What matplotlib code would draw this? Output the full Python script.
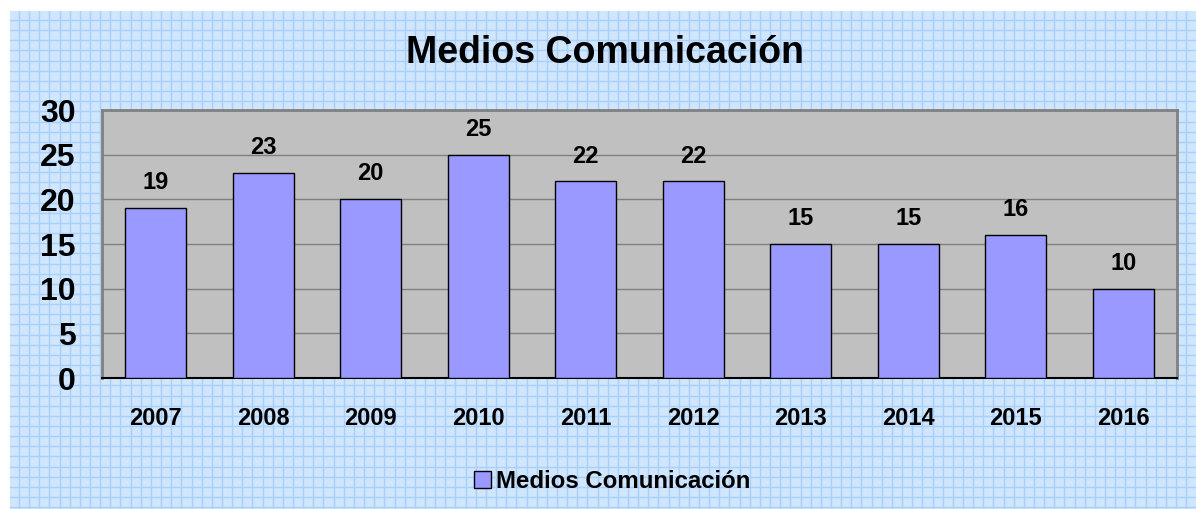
import numpy as np
import matplotlib
matplotlib.use("Agg")
import matplotlib.pyplot as plt
from matplotlib.patches import Rectangle
from matplotlib.lines import Line2D

# Datos
years = ["2007", "2008", "2009", "2010", "2011", "2012", "2013", "2014", "2015", "2016"]
values = [19, 23, 20, 25, 22, 22, 15, 15, 16, 10]
series_name = "Medios Comunicación"
title = "Medios Comunicación"

plt.rcParams["font.family"] = ["Liberation Sans", "DejaVu Sans"]
plt.rcParams["font.weight"] = "bold"

W, H = 1196, 509
fig = plt.figure(figsize=(W / 100, H / 100), dpi=100, facecolor="white")

# =========================
# Fondo papel cuadriculado
# =========================
x0, y0 = 10, 11
fig.patches.append(Rectangle((x0 / W, 0), 1 - x0 / W, 1 - y0 / H,
                             transform=fig.transFigure, facecolor="#cfe6fd",
                             edgecolor="none", zorder=-10))
for gx in np.arange(19, W, 10.15):
    fig.lines.append(Line2D([gx / W, gx / W], [0, 1 - y0 / H], transform=fig.transFigure,
                            color="#a9d0fb", lw=1.0, zorder=-9))
for gy in np.arange(20, H, 10.15):
    fig.lines.append(Line2D([x0 / W, 1], [1 - gy / H, 1 - gy / H], transform=fig.transFigure,
                            color="#a9d0fb", lw=1.0, zorder=-9))

# =========================
# Gráfico de barras
# =========================
ax = fig.add_axes([102 / W, 1 - 378 / H, (1177 - 102) / W, (378 - 110) / H])
ax.set_facecolor("#c0c0c0")

x = np.arange(len(years))
ax.bar(x, values, width=0.57, color="#9999ff", edgecolor="black", linewidth=1.0,
       zorder=3, label=series_name)

for xi, v in zip(x, values):
    ax.annotate(str(v), (xi, v), xytext=(0, 10), textcoords="offset points",
                ha="center", va="bottom", fontsize=17, fontweight="bold")

ax.set_xlim(-0.5, len(years) - 0.5)
ax.set_ylim(0, 30)
ax.set_yticks([0, 5, 10, 15, 20, 25, 30])
ax.set_xticks(x)
ax.set_xticklabels(years)
ax.yaxis.grid(True, color="#808080", lw=1.0, zorder=1)
ax.set_axisbelow(True)

ax.tick_params(axis="y", length=0, pad=19, labelsize=23)
ax.tick_params(axis="x", length=0, pad=21, labelsize=17)

for side in ["top", "left", "right"]:
    ax.spines[side].set_color("#808080")
    ax.spines[side].set_linewidth(2)
ax.spines["bottom"].set_color("black")
ax.spines["bottom"].set_linewidth(1.5)

fig.text(0.5055, 1 - 53 / H, title, ha="center", va="center",
         fontsize=27, fontweight="bold")

fig.legend(loc="center", bbox_to_anchor=(612 / W, 1 - 481 / H), frameon=False,
           handlelength=0.7, handleheight=0.7, handletextpad=0.2,
           prop={"weight": "bold", "size": 17.3})

plt.savefig("out.png", dpi=100, facecolor="white")
